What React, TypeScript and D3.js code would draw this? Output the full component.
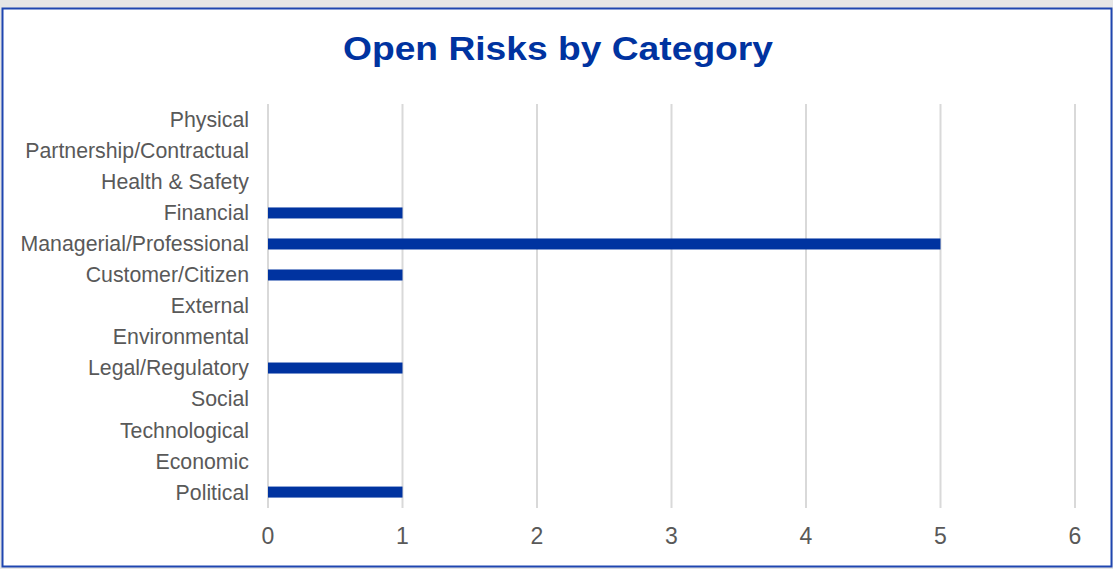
import React from "react";
import * as d3 from "d3";

const categories = [
  "Physical",
  "Partnership/Contractual",
  "Health & Safety",
  "Financial",
  "Managerial/Professional",
  "Customer/Citizen",
  "External",
  "Environmental",
  "Legal/Regulatory",
  "Social",
  "Technological",
  "Economic",
  "Political",
];
const values = [0, 0, 0, 1, 5, 1, 0, 0, 1, 0, 0, 0, 1];
const xTicks = [0, 1, 2, 3, 4, 5, 6];
const title = "Open Risks by Category";

const W = 1113;
const H = 569;
const FONT = "'Liberation Sans', Arial, sans-serif";

export default function App() {
  const x = d3.scaleLinear().domain([0, 6]).range([268, 1075]);
  const y = d3
    .scaleBand<string>()
    .domain(categories)
    .range([104.5, 507.5])
    .paddingInner(0.645)
    .paddingOuter(0.32);
  const yc = (c: string) => (y(c) as number) + y.bandwidth() / 2;
  return (
    <div style={{ position: "fixed", left: 0, top: 0, width: W, height: H }}>
      <svg width={W} height={H} style={{ display: "block" }}>
        <rect x={0} y={0} width={W} height={H} fill="#e6e6e6" />
        <rect x={2.5} y={8.5} width={1109} height={558} fill="#ffffff" stroke="#1f46b0" strokeWidth={2} />
        <text
          x={558}
          y={60}
          textAnchor="middle"
          fontFamily={FONT}
          fontWeight="bold"
          fontSize={33}
          textLength={430}
          lengthAdjust="spacingAndGlyphs"
          fill="#0033a0"
        >
          {title}
        </text>
        {xTicks.map((t) => (
          <g key={t}>
            <line x1={x(t)} x2={x(t)} y1={104} y2={508} stroke="#d9d9d9" strokeWidth={2} />
            <text x={x(t)} y={544} textAnchor="middle" fontFamily={FONT} fontSize={23} fill="#595959">
              {t}
            </text>
          </g>
        ))}
        {categories.map((c, i) => (
          <g key={c}>
            <text x={249} y={yc(c)} dy="0.35em" textAnchor="end" fontFamily={FONT} fontSize={21.3} fill="#595959">
              {c}
            </text>
            {values[i] > 0 && (
              <rect x={x(0)} y={y(c)} width={x(values[i]) - x(0)} height={y.bandwidth()} fill="#0033a0" />
            )}
          </g>
        ))}
      </svg>
    </div>
  );
}
